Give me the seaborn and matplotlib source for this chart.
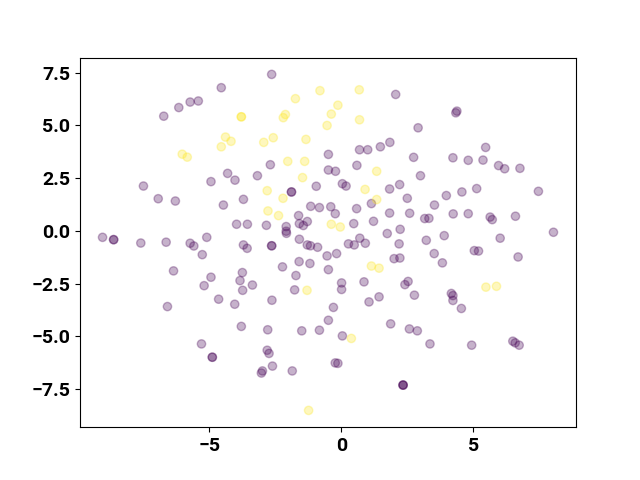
"""Two-class scatter (viridis endpoints, translucent markers)."""

import matplotlib

matplotlib.use("Agg")
import matplotlib.pyplot as plt
import pandas as pd
import seaborn as sns

# Class 0 points (dark purple)
x_class0 = [
    -6.73, -6.16, -5.73, -5.42, -7.50, -6.94, -6.29, -4.94, -9.05, -8.63,
    -8.63, -7.60, -6.64, -5.73, -5.59, -5.10, -5.27, -6.36, -4.94, -5.20,
    -6.59, -5.30, -4.89, -4.89, -2.64, -4.55, -2.69, -0.49, -0.49, -4.31,
    -4.03, -3.18, -0.95, -1.89, -1.89, -3.71, -4.47, -1.16, -0.83, -0.40,
    -1.62, -3.97, -3.56, -2.84, -2.09, -2.09, -2.08, -1.59, -1.44, -1.29,
    -1.59, -3.71, -3.57, -2.64, -2.64, -1.29, -1.17, -0.90, -0.54, -2.23,
    -1.60, -1.19, -0.49, -3.75, -3.84, -3.74, -3.37, -1.72, -1.77, -4.65,
    -4.04, -2.63, -0.30, -3.79, -2.79, -1.50, -0.83, -0.49, -2.81, -2.74,
    -2.99, -3.03, -2.61, -1.86, 2.06, 2.91, 0.69, 1.00, 1.48, 1.84,
    2.74, 4.23, -0.22, 0.59, 3.00, 0.04, 0.18, 1.83, 2.21, 1.14,
    2.50, 3.98, -0.23, 0.58, 3.53, 1.83, 2.59, 3.16, 3.32, 4.24,
    0.47, 1.22, 1.74, 2.23, 3.22, 3.90, 0.70, 0.27, 0.49, 0.91,
    2.19, -0.18, 2.00, 2.22, 3.52, 3.83, 0.01, 0.01, 0.86, 2.41,
    2.53, 2.77, 1.05, 1.43, 1.87, 2.58, 2.88, 3.36, 0.04, -0.23,
    -0.13, 2.34, 2.34, 2.34, 4.38, 4.34, 5.47, 4.81, 5.37, 5.96,
    6.19, 6.77, 4.57, 5.13, 7.47, 4.81, 5.64, 5.72, 6.60, 6.02,
    8.04, 5.04, 5.20, 6.70, 4.17, 4.23, 4.23, 4.55, 4.94, 6.50,
    6.59, 6.74,
]
y_class0 = [
    5.43, 5.84, 6.10, 6.15, 2.12, 1.52, 1.41, 2.33, -0.31, -0.42,
    -0.42, -0.58, -0.54, -0.59, -0.72, -0.31, -1.13, -1.90, -2.20, -2.60,
    -3.59, -5.36, -5.99, -5.99, 7.41, 6.78, 3.13, 3.62, 2.88, 2.72,
    2.40, 2.61, 2.11, 1.84, 1.84, 1.49, 1.22, 1.16, 1.10, 1.14,
    0.72, 0.31, 0.31, 0.26, 0.20, -0.02, -0.12, 0.34, 0.25, 0.44,
    -0.40, -0.67, -0.83, -0.71, -0.71, -0.67, -0.71, -0.78, -1.19, -1.71,
    -1.46, -1.55, -1.84, -1.98, -2.36, -2.82, -2.57, -2.12, -2.80, -3.24,
    -3.48, -3.29, -3.63, -4.53, -4.69, -4.74, -4.71, -4.24, -5.66, -5.81,
    -6.64, -6.74, -6.41, -6.64, 6.46, 4.88, 3.84, 3.84, 3.98, 4.19,
    3.48, 3.46, 2.82, 3.10, 2.61, 2.23, 2.12, 1.98, 2.19, 1.29,
    1.54, 1.67, 0.81, 1.05, 1.22, 0.84, 0.83, 0.58, 0.59, 0.80,
    0.34, 0.45, -0.13, 0.07, -0.45, -0.23, -0.35, -0.62, -0.67, -0.59,
    -0.62, -1.08, -1.32, -1.29, -1.08, -1.52, -2.47, -2.78, -2.42, -2.55,
    -2.40, -3.05, -3.37, -3.13, -4.41, -4.65, -4.74, -5.36, -4.98, -6.26,
    -6.28, -7.31, -7.31, -7.31, 5.67, 5.59, 3.95, 3.34, 3.35, 3.09,
    2.94, 2.96, 1.84, 2.00, 1.87, 0.81, 0.65, 0.53, 0.69, -0.35,
    -0.07, -0.94, -0.96, -1.24, -2.97, -3.07, -3.30, -3.68, -5.42, -5.23,
    -5.31, -5.42,
]

# Class 1 points (yellow)
x_class1 = [
    -6.03, -5.84, -0.81, -1.74, -3.79, -3.79, -2.12, -2.20, -0.38, -0.54,
    -4.39, -4.18, -4.55, -2.94, -2.58, -1.34, -2.03, -1.39, -1.47, -2.81,
    -2.21, -2.78, -2.38, -0.38, -0.04, -1.30, -1.24, 0.68, -0.13, 0.69,
    1.34, 0.90, 1.34, 1.14, 1.43, 0.38, 5.48, 5.88,
]
y_class1 = [
    3.63, 3.49, 6.64, 6.26, 5.40, 5.40, 5.51, 5.36, 5.53, 4.99,
    4.44, 4.24, 3.98, 4.19, 4.41, 4.33, 3.29, 3.29, 2.52, 1.90,
    1.54, 0.94, 0.72, 0.31, 0.18, -2.82, -8.51, 6.68, 5.95, 5.26,
    2.82, 1.96, 1.48, -1.67, -1.77, -5.10, -2.67, -2.63,
]

class_colors = {0: "#440154", 1: "#fde725"}

df = pd.concat(
    [
        pd.DataFrame({"x": x_class0, "y": y_class0, "label": 0}),
        pd.DataFrame({"x": x_class1, "y": y_class1, "label": 1}),
    ],
    ignore_index=True,
)

plt.rcParams["font.family"] = ["Roboto", "DejaVu Sans"]
plt.rcParams["font.weight"] = "bold"
plt.rcParams["font.size"] = 14

fig, ax = plt.subplots(figsize=(6.4, 4.8), dpi=100)
sns.scatterplot(
    data=df,
    x="x",
    y="y",
    hue="label",
    palette=class_colors,
    alpha=0.3,
    s=36,
    edgecolor="face",
    linewidth=1,
    legend=False,
    ax=ax,
)
ax.set_xlabel("")
ax.set_ylabel("")
ax.set_xticks([-5, 0, 5])
ax.set_yticks([-7.5, -5.0, -2.5, 0.0, 2.5, 5.0, 7.5])

fig.savefig("out.png", dpi=100)
plt.close(fig)
